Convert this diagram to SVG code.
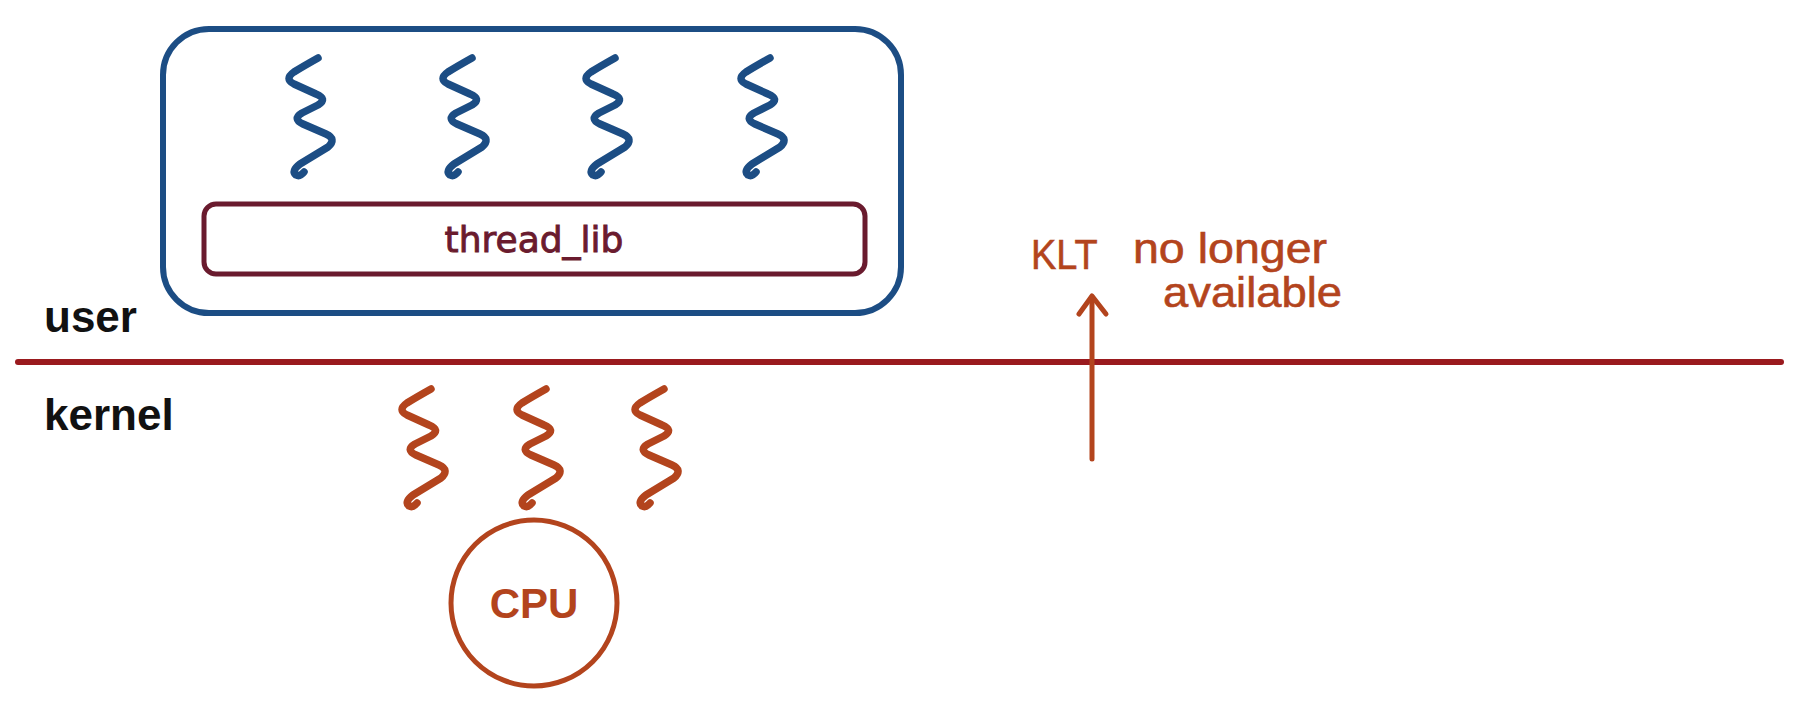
<svg xmlns="http://www.w3.org/2000/svg" xmlns:xlink="http://www.w3.org/1999/xlink" width="1810" height="719" viewBox="0 0 1810 719">
<style>
.bg{fill:#ffffff}
.squig{fill:none;stroke-width:7.5;stroke-linecap:round;stroke-linejoin:round}
.blue{stroke:#1c4d84}
.orange{stroke:#b3441d}
.label{font-family:"Liberation Sans",Arial,sans-serif;font-weight:bold;font-size:44px;fill:#111111}
.hand{font-family:"Liberation Sans",Arial,sans-serif;font-size:42px;fill:#b3441d;stroke:#b3441d;stroke-width:0.6}
</style>
<defs>
<path id="sq" d="M32,0 Q16,9 8,14 Q-2,21 8,26 L30,36 Q42,41 32,47 L16,55 Q6,61 17,66 L40,76 Q51,81 42,89 L14,106 Q5,113 10,117 Q14,119 18,114"/>
</defs>
<rect class="bg" x="0" y="0" width="1810" height="719"/>

<g id="user-process">
<rect x="163" y="29" width="738" height="284" rx="46" ry="46" fill="none" stroke="#1c4d84" stroke-width="6"/>
</g>
<g id="user-threads">
<use xlink:href="#sq" class="squig blue" x="286" y="58"/>
<use xlink:href="#sq" class="squig blue" x="440" y="58"/>
<use xlink:href="#sq" class="squig blue" x="583" y="58"/>
<use xlink:href="#sq" class="squig blue" x="738" y="58"/>
</g>
<g id="thread-lib">
<rect x="204" y="204" width="661" height="70" rx="12" ry="12" fill="none" stroke="#6a1b2e" stroke-width="5"/>
<text x="534" y="252" text-anchor="middle" font-family="'DejaVu Sans',sans-serif" font-size="36" fill="#6a1b2e" stroke="#6a1b2e" stroke-width="0.9">thread_lib</text>
</g>

<g id="boundary">
<line x1="18" y1="362" x2="1781" y2="362" stroke="#9a1a1e" stroke-width="6" stroke-linecap="round"/>
<text class="label" x="44" y="332">user</text>
<text class="label" x="44" y="430">kernel</text>
</g>

<g id="kernel-threads">
<use xlink:href="#sq" class="squig orange" x="399" y="389"/>
<use xlink:href="#sq" class="squig orange" x="514" y="389"/>
<use xlink:href="#sq" class="squig orange" x="632" y="389"/>
</g>

<g id="cpu">
<circle cx="534" cy="603" r="83" fill="none" stroke="#b3441d" stroke-width="5"/>
<text x="534" y="618" text-anchor="middle" font-family="'Liberation Sans',Arial,sans-serif" font-weight="bold" font-size="42" fill="#b3441d">CPU</text>
</g>

<g id="connectors">
<line x1="1092" y1="459" x2="1092" y2="297" stroke="#b3441d" stroke-width="5" stroke-linecap="round"/>
<polyline points="1079,314 1092,296 1106,314" fill="none" stroke="#b3441d" stroke-width="5" stroke-linecap="round" stroke-linejoin="round"/>
</g>

<g id="note">
<text class="hand"><tspan x="1031" y="269" textLength="66" lengthAdjust="spacingAndGlyphs">KLT</tspan> <tspan x="1133" y="263" textLength="194" lengthAdjust="spacingAndGlyphs">no longer</tspan></text>
<text class="hand" x="1163" y="307" textLength="179" lengthAdjust="spacingAndGlyphs">available</text>
</g>
</svg>
